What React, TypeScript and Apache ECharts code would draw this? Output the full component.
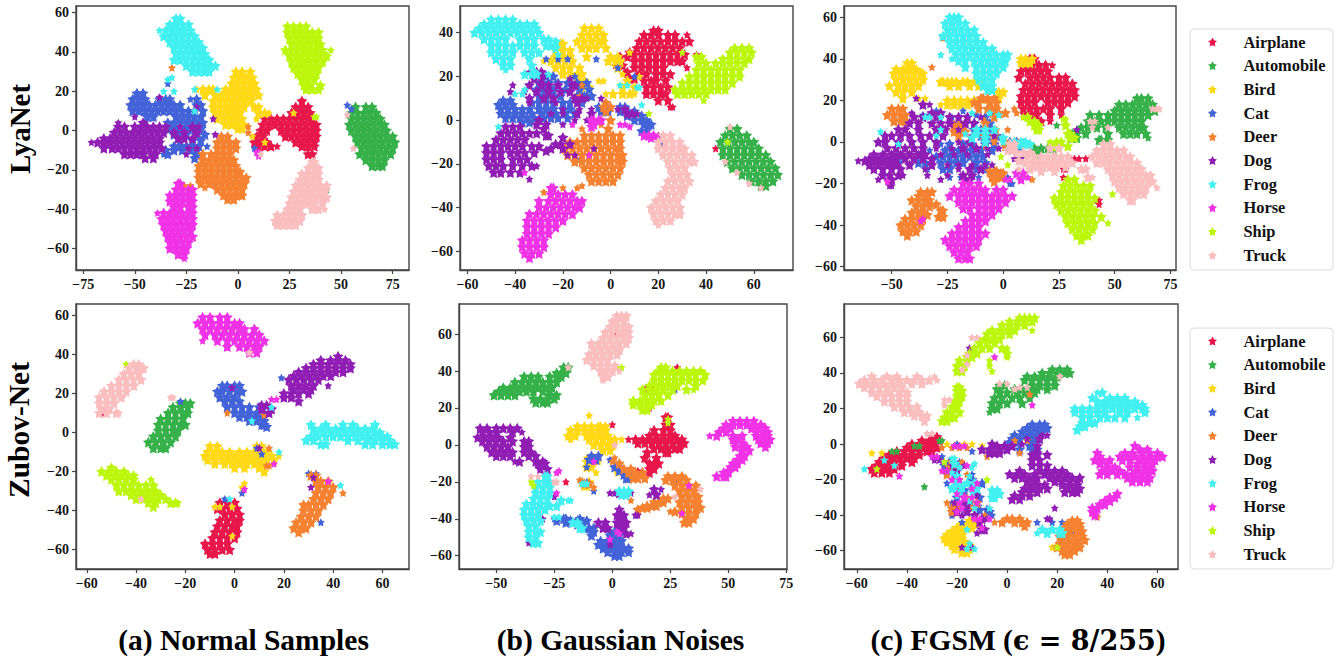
import React, { useEffect, useRef } from "react";
import * as echarts from "echarts";

const classes = ["Airplane", "Automobile", "Bird", "Cat", "Deer", "Dog", "Frog", "Horse", "Ship", "Truck"];
const colors = ["#e8174b", "#36b14a", "#ffd916", "#4363d8", "#f58231", "#911eb4", "#42f0f0", "#f032e6", "#bcf60c", "#fabebe"];
const star = "path://M50 0 L66 30 L100 38 L76 62 L81 100 L50 85 L19 100 L24 62 L0 38 L34 30 Z";

// every row is [y, x, x, x ...]
const a1 = [[15,31],[12,28,31,34],[9,26,29,32,35],[6,13,16,19,22,25,28,31,34,36],[3,12,15,18,21,24,27,30,33,36,38],[0,11,14,21,24,27,30,33,36,38],[-3,9,12,23,26,29,32,35,38],[-6,8,11,14,28,31,34,37],[-8,10,13,16,19,31,34,37],[-12,34,36]];
const a2 = [[12,57,62,65],[9,55,58,61,64,67],[6,55,58,61,64,67,69],[3,54,57,60,63,66,69,71],[0,55,58,61,64,67,70,72],[-3,57,60,63,66,69,72,75],[-6,58,61,64,67,70,73,76],[-9,60,63,66,69,72,75],[-12,59,62,65,68,71,74],[-15,62,65,68,71],[-18,65,68,70],[-30,43]];
const a3 = [[30,-1,2,6],[27,-2,1,4,7],[24,-3,0,3,6,8],[21,-20,-17,-14,-12,-6,-3,0,3,6,9],[18,-16,-11,-8,-5,-2,1,4,7,10],[15,-12,-9,-6,-3,0,3,6],[12,-12,-9,-6,-3,0,3,8,10],[9,-11,-8,-5,-2,1,10,13,15],[6,-10,-7,-4,-1,2,9],[3,-6,-3,0,3],[1,0,2],[-3,7],[-16,-8],[9,27],[-6,13]];
const a4 = [[19,-49,-46],[16,-51,-48,-45,-38,-35,-33,-23,-20],[13,-52,-49,-46,-43,-40,-37,-34,-31,-28,-20,-18],[10,-51,-48,-45,-42,-39,-36,-33,-30,-27,-24,-21,-17],[7,-44,-41,-30,-27,-24,-21,-18],[4,-34,-31,-28,-25,-22,-19,-17],[1,-33,-30,-27,-24,-21,-18],[-2,-31,-28,-25,-20,-16],[-5,-28,-22,-18],[-8,-31,-28,-25,-22,-19,-15],[-10,-35,-31,-27,-23,-20],[-12,-36,-34,-20],[13,53],[11,55],[24,-34],[-9,8],[-14,-21]];
const a5 = [[-3,-8,-5],[-6,-10,-7,-4,-1],[-9,-10,-7,-4,-1],[-12,-17,-13,-10,-7,-4],[-15,-17,-14,-11,-8,-5,-2],[-18,-19,-16,-13,-10,-7,-4,-1],[-21,-19,-16,-13,-10,-7,-4,-1,1],[-24,-19,-16,-13,-10,-7,-4,-1,2,4],[-27,-18,-14,-11,-8,-5,-2,1,3],[-30,-10,-7,-4,-1,2],[-33,-7,-4,-1,2],[-35,-5,-2],[-28,-26,-23],[-29,-16],[-1,5],[2,5],[32,-32]];
const a6 = [[7,-50],[4,-58,-46],[2,-58,-55,-50,-47,-44,-41,-38,-35,-28,-22,-19],[-1,-60,-57,-54,-51,-48,-45,-42,-39,-36,-31,-26,-20],[-4,-65,-62,-59,-56,-53,-50,-47,-44,-41,-38,-29,-26,-22],[-6,-71,-68,-65,-62,-59,-56,-53,-50,-47,-44,-41,-38],[-9,-65,-61,-58,-55,-52,-49,-46,-43,-40,-37,-24,-20],[-12,-55,-52,-49,-46,-42,-40,-25],[-14,-45,-41],[6,-12],[-2,-11],[12,-20],[17,-38]];
const a7 = [[57,-30,-28],[54,-33,-30,-27,-24],[51,-38,-35,-32,-29,-26,-23],[48,-36,-33,-30,-27,-24,-21],[45,-33,-30,-27,-24,-21,-19],[42,-31,-28,-25,-22,-19,-17],[39,-30,-27,-24,-21,-18,-16],[36,-28,-25,-22,-19,-16,-14],[33,-25,-22,-19,-16,-13,-11],[30,-22,-19,-16,-14],[36,-31],[27,-32],[26,-34],[20,-36,-31],[21,-21,-10],[10,-21]];
const a8 = [[-27,-29,-28],[-30,-30,-27,-24,-22],[-33,-33,-30,-27,-24,-22],[-36,-33,-30,-27,-24,-22],[-39,-31,-28,-24,-22],[-42,-39,-36,-33,-30,-27,-24,-22],[-45,-37,-34,-31,-28,-25,-22],[-48,-36,-33,-30,-27,-24,-22],[-51,-35,-32,-29,-26,-23],[-54,-34,-31,-28,-25,-22],[-57,-33,-30,-27,-24],[-60,-33,-30,-27,-25],[-63,-29,-26],[-65,-26],[-11,10,9],[-13,10]];
const a9 = [[53,24,27,30,33],[50,24,27,30,33,36,39],[47,25,28,31,34,37,39],[44,26,29,32,35,38,40],[41,23,26,29,32,35,38,41,45],[38,25,28,31,34,37,40,43],[35,26,29,32,35,38,41],[32,27,30,33,36,39],[29,29,32,35,38],[26,31,34,37],[23,32,35,40],[21,33,36,39],[7,38,37]];
const a10 = [[-16,36,37],[-19,34,37,39],[-22,31,34,37,39],[-25,30,33,36,39],[-28,28,31,34,37,40,43],[-31,27,30,33,36,39,42],[-34,26,29,32,35,38,41,43],[-37,25,28,31,34,37,41],[-40,24,27,30,36,39,42],[-43,19,22,25,28,31],[-46,18,21,24,27,30],[-48,19,22,25,28],[8,53],[-9,56],[-12,11]];

const b1 = [[41,18,20],[39,14,17,20,24,27,32],[36,12,15,18,21,24,27,30,33],[33,11,14,17,20,23,26,29],[30,10,13,16,19,22,25,28,31],[27,10,13,16,19,22,25,28,30],[24,10,13,16,19,22,32],[21,12,15,19,22,25],[18,14,17,19,23],[15,15,18,21,24],[12,15,18,21,23],[9,20,24],[6,25,26],[31,8],[29,4,7],[25,2,5],[22,7],[19,8,10],[-13,44],[-7,20],[20,54],[30,36]];
const b2 = [[-4,50,53],[-7,48,51,54,57],[-10,46,49,52,55,58,60],[-13,47,50,53,56,59,62],[-16,47,50,53,56,59,62,65],[-19,49,52,55,58,61,64,67],[-22,51,54,57,60,63,66,69],[-25,55,58,61,64,67,70],[-28,59,62,65,68],[-30,63,65]];
const b3 = [[42,-11,-8,-5],[39,-12,-9,-6,-3],[36,-14,-11,-8,-5,-3],[33,-12,-9,-6,-2],[35,-21,-20],[32,-23,-20,-17],[29,-23,-20,-17,-10,0,3],[27,-28,-25,-22,-19,-16,-1,2,4],[24,-23,-20,-17,-13,3],[21,-20,-17,-14,-12,5],[18,-13,-11,-5,-3,7],[15,-12,-9,5,10],[12,-2,1,5,8,10],[20,12],[31,8]];
const b4 = [[9,-45,-42],[7,-47,-44,-41],[5,-46,-43,-40,-37,-34,-30,-27,-24,-20,-17],[3,-46,-43,-40,-37,-33,-29,-26,-23,-19,-15],[1,-44,-41,-38,-35,-32,-28,-25,-22,-18],[-1,-37,-34],[8,-33,-30,-27,-24,-20,-17,-12],[11,-30,-27,-24,-21,-14,-11,-8],[14,-31,-28,-24,-19,-13,-9],[17,-30,-26,-22,-18,-14,-10],[20,-27,-24,-15],[6,4,6,-5,-2],[4,4,7,10,-4,-1],[2,7,10,13],[0,10,13,15],[-2,14,16,17],[-5,13,15],[28,-6,-18,-22,-27],[24,3],[20,10],[-11,22],[-18,-13]];
const b5 = [[-4,-12,-1],[-7,-11,-8,-5,-2,1,4],[-10,-17,-14,-11,-8,-5,-2,1,4],[-13,-19,-16,-13,-10,-7,-4,-1,2,4],[-16,-18,-15,-12,-9,-6,-3,0,3,5],[-19,-15,-12,-9,-6,-3,0,3,5],[-22,-11,-8,-5,-2,1,4],[-25,-9,-6,-3,0,3],[-28,-8,-5,-2,1],[8,-2],[6,-3,0],[4,-2],[0,0],[-2,-4],[-31,-20,-14],[-30,-12],[-33,-28],[16,-12],[11,-13]];
const b6 = [[-3,-44,-41,-38],[-6,-46,-43,-40,-37,-34,-31],[-9,-48,-45,-42,-39,-36],[-12,-52,-49,-46,-43,-40,-37,-33,-30],[-15,-52,-49,-46,-42,-39,-36,-32],[-18,-52,-49,-46,-41,-38,-35],[-21,-51,-48,-45,-41,-37,-33,-31],[-24,-49,-46,-42,-38],[-27,-34],[22,-34,-31,-29],[19,-32,-29,-17],[16,-41,-34,-29,-26,-22,-16,-15],[13,-42,-36,-31,-26,-21,-17],[10,-34,-28,-24,-15,-12,-10,-4],[8,-34,-23,-14],[5,-20,-13,-8,3,6],[3,-25,-20,-14,-8,7,9,11],[0,-30,-15,-10,-5],[-2,-31,-27,-20],[-4,-28],[-7,-27,-26],[-8,-20],[-11,-21,-17,-23],[-13,-25,-20,-7],[-14,-27],[-16,-18,-15]];
const b7 = [[46,-50,-47,-44,-41],[44,-53,-50,-47,-44,-41,-38,-35,-32],[42,-55,-52,-49,-46,-43,-40,-37,-34,-31],[40,-57,-54,-51,-48,-45,-42,-39,-36,-33,-30],[37,-53,-50,-47,-44,-38,-35,-32,-28,-26],[34,-50,-47,-44,-41,-38,-35,-32,-27,-25],[31,-50,-47,-44,-41,-36,-33,-30],[28,-48,-45,-42,-34],[25,-45,-42],[23,-44],[25,-33],[22,-32],[21,-36,-33,-31,-26],[12,-37,-40],[33,-23],[30,-22],[36,-23],[14,-36],[-3,-47],[7,13],[16,4,7],[15,11,12]];
const b8 = [[-31,-25,-24],[-34,-25,-22,-19,-16],[-37,-30,-26,-23,-20,-17,-14,-12],[-40,-30,-27,-24,-21,-18,-15,-13],[-43,-34,-31,-28,-25,-22,-19,-16],[-46,-35,-32,-29,-26,-23,-20],[-49,-35,-32,-29,-26,-23],[-52,-35,-32,-29,-26],[-55,-37,-34,-31,-28],[-58,-37,-34,-31,-28],[-61,-36,-33,-30],[-63,-34],[-2,-16,4,6,-7],[0,-8,-7,-5,-4],[-3,-8,8],[-7,14,16,18],[-8,20,17],[-16,-9],[-24,-36]];
const b9 = [[33,52,55,58],[31,50,53,56,59,30],[28,47,50,53,56,58],[26,37,40,44,47,50,53,56],[29,38,36],[23,36,39,42,45,48,51,54],[20,33,36,39,42,45,48,51,54],[17,30,33,36,39,42,45,48,51],[14,27,30,33,36,39,42,45,48],[12,28,31,34,37,40],[9,39],[-10,49],[3,16]];
const b10 = [[-7,22,25],[-10,20,23,26,29],[-13,20,23,26,29,31],[-16,22,25,28,31,34],[-19,24,27,30,33,35],[-22,25,28,31],[-25,26,29,32],[-28,24,27,30,33],[-31,23,26,29,31],[-34,21,24,27,30],[-37,19,22,25,28],[-40,17,20,23,26,29],[-43,18,21,24,27,29],[-46,19,22,25],[-48,20],[-3,50],[-19,48],[-24,53],[-29,58],[-31,63]];

const c1 = [[40,12,14],[37,10,13,16,19,22],[34,8,11,14,17,20],[31,7,12,15,18,21,25,28],[28,10,13,16,19,22,25,28,31],[25,9,12,15,18,21,24,27,30,32],[22,8,11,14,17,20,23,26,29,32],[19,8,11,14,20,23,26,29],[16,9,12,15,18,21,26],[13,10,13,15,21,26],[10,17,21],[-8,32,34,37],[-13,28,27],[-17,27],[-28,43,42],[-30,43]];
const c2 = [[21,60,62,65],[18,52,55,58,61,64,67],[15,50,53,56,59,62,65,68],[13,39,43,47,50,53,56,59,62,65],[10,38,41,44,47,50,53,56,59,62],[7,35,38,42,46,52,55,58,61,63],[4,37,47,54,57,60,64],[2,65],[1,44,43,47],[4,32,33,31],[2,31,33],[8,24],[-3,14,17,20],[-5,16,23],[-6,10,15]];
const c3 = [[38,-43,-41],[35,-48,-45,-42,-39],[33,-49,-46,-43,-40,-37,-36],[30,-48,-45,-42,-39,-36],[27,-51,-47,-44,-41,-38],[24,-48,-45,-41],[21,-45,-38,-35],[29,-28,-27,-25,-23,-21,-18,-16,-13,-10],[27,-24,-20,-15,-11],[20,-25,-22,-19,-16,-13,-11,-8],[18,-28,-25,-22,-19,-16],[38,8,10,12],[40,8,10,13],[21,-3,-2],[24,-2,0]];
const c4 = [[-7,-48,-46,-36,-30,-27,-24,-21,-18,-15,-12,-9],[-10,-50,-47,-38,-35,-28,-24,-21,-18,-12,-8],[-4,-33,-26,-23,-20,-17,-14,-10,-5],[-13,-34,-27,-24,-12,-8],[-1,-28,-24,-18,-14,-8,-4],[3,-10,-7,-3],[6,-13,-10,-6],[9,-20,-17,-13,-6],[13,-36,-33,-28,-12],[15,-30,-18],[12,-23,-8],[-17,-24,-19,-11,2],[0,3,6,9],[-3,2,7],[-20,3,4],[14,-5]];
const c5 = [[-24,-37,-34,-32],[-26,-38,-35],[-28,-41,-38,-35,-33],[-31,-39,-36,-33],[-34,-41,-38,-36],[-37,-44,-41,-38,-36],[-40,-46,-43,-40,-37],[-43,-45,-42,-39],[-45,-43],[16,-50,-47,-45],[13,-52,-49,-46,-44],[10,-49,-46,-44],[-30,-30],[-33,-28,-27],[-36,-29,-27],[-35,-34],[8,-22,-20,-18],[5,-22,-19,-17],[3,-20,-9,-4],[11,-9],[6,-8,-3,2],[0,-4,1,5,7],[-2,-8,1,4],[-14,-6,-4,-3],[-17,-5,-3,-1],[-19,-4],[-15,-1,0],[21,-10,-7,-4,-9],[19,-13,-11,-6,-3],[16,-11,-7,-5,-3,5],[14,-2,1,6],[12,-4],[9,-8],[-18,13],[36,-32],[50,-27]];
const c6 = [[-6,-58,-54,-50,-46,-42,-38,-35,-28,-22,-16,-7],[-8,-60,-56,-52,-48,-44,-40,-36,-32],[-9,-65,-62,-58,-54,-50],[-11,-60,-56,-52,-48,-42,-32,-25,-20,-14,-8,-5],[-13,-58,-54,-50,-46,-35,-20,-15,-10],[-16,-54,-51,-47,-45,-34,-25,-18,-14],[-18,-56,-50,-28,-17,-15],[-21,-51,-50],[-3,-52,-48,-44,-40,-36,-30,-23,-18,-12,-7,-2],[0,-56,-53,-47,-41,-36,-30,-20,-15,-8],[3,-53,-50,-46,-42,-37,-33,-27,-14,-4],[6,-47,-44,-38,-30,-26,-20],[9,-42,-38,-32,-28,-24,-17,-13],[12,-40,-36,-30,-24,-20,-16,-10],[14,-41,-32,-28],[18,-36,-33],[21,-39],[-8,5,8],[-3,5],[6,33]];
const c7 = [[60,-24,-22,-20],[57,-26,-23,-20,-17],[54,-25,-22,-19,-16,-13],[51,-27,-24,-21,-18,-15,-12],[48,-24,-21,-18,-15,-12,-9],[45,-23,-20,-17,-14,-11,-8,-5],[42,-21,-18,-15,-12,-9,-6,-3,0,2],[39,-20,-17,-13,-10,-7,-4,-1,1],[36,-17,-12,-9,-6,-3,0],[33,-12,-9,-6,-3],[30,-11,-8,-5],[27,-9,-6,-5],[25,-7,-5],[42,-28],[40,-23],[6,-28,-12,-8,-4],[4,-17,-12,-8],[2,-14,-8,0],[0,-8,0,5,8,10],[-1,3,6,9,12],[12,-35,-33,-28],[3,-30],[-1,-47],[5,-55],[14,-14,-6],[13,-2]];
const c8 = [[-20,-18,-15,-11],[-23,-22,-19,-16,-13,-10,-8,-3,0],[-26,-24,-20,-17,-14,-11,-8,-5,-2,1,4],[-29,-20,-17,-14,-11,-8,-5,-2,1],[-32,-18,-15,-11,-8,-5,-2],[-35,-14,-11,-8,-5],[-38,-17,-14,-11,-8],[-41,-20,-17,-14,-11],[-44,-23,-20,-17,-14,-11,-8],[-47,-26,-23,-20,-17,-14,-11],[-50,-24,-21,-18,-15,-12],[-53,-22,-19,-16],[-56,-20,-17,-15],[-18,1,3,8],[-15,6,9],[-17,11],[-37,-36],[-38,-37],[-19,-52]];
const c9 = [[-18,29,32],[-21,27,30,33,36,39],[-24,26,29,32,35,38],[-27,23,26,29,32,35,38,41],[-30,24,27,30,33,36,39],[-33,26,29,32,35,38,41],[-36,28,31,34,37,40,44],[-39,29,32,35,38,41,47],[-42,31,34,37,40],[-45,33,36,38],[-47,35],[12,9,11],[10,12,14],[8,14,16],[6,15,16],[11,27,28],[8,28],[4,29,30],[2,30,32],[0,21,24,26],[-2,22,29],[-7,-1],[-11,2],[-25,49]];
const c10 = [[-1,45,48],[-4,42,45,48,51,54],[-7,40,43,46,49,52,55,57],[-10,42,45,48,51,54,57,60],[-13,47,50,53,56,59,62],[-16,49,52,55,58,61,64,66],[-19,50,53,56,59,62,65,67],[-22,52,55,58,61,64,69],[-25,54,57,60,63],[-28,57,58],[-7,11,14,17,20,23,26,29],[-10,10,13,16,19,22,25,28,31],[-12,15,18,21,24,28],[-14,17,23],[-3,21,25],[-13,35,37,7,12],[-17,38,40],[16,70,69,67],[10,39,41],[7,40,47],[-4,2,4],[-1,3,5],[-5,6,9,12],[-9,7]];

const d1 = [[-36,-6,-3,0],[-39,-7,-5,-2,1],[-42,-4,-1,2],[-45,-6,-3,0,2],[-48,-7,-4,-1,1],[-51,-8,-5,-2,1],[-54,-9,-6,-3,0],[-57,-12,-9,-6,-3],[-60,-11,-8,-5,-2],[-62,-10,-8],[10,-53]];
const d2 = [[15,-22,-20,-18],[13,-25,-22,-19],[10,-27,-24,-21,-19],[7,-30,-27,-24,-21],[4,-31,-28,-25,-22,-20],[1,-31,-28,-25,-23],[-2,-33,-30,-27,-24],[-5,-35,-32,-29,-26],[-8,-33,-30,-28]];
const d3 = [[-7,-10,-7,9,11],[-10,-11,-8,-5,-2,2,5,8,11,13],[-12,-12,-9,-6,-3,0,3,6,9,12,15,18],[-14,-11,-8,-5,-2,1,4,7,10,13,16],[-16,-8,-4,-1,2,5,8,11],[-18,0,4,10],[-20,12],[-38,-8,-6,-1],[-53,-1],[-26,4],[-28,3]];
const d4 = [[24,-5,-3,0,2],[21,-7,-5,-2,1,3],[18,-6,-3,0],[16,-4,-1,2,-22],[13,-3,0,3,6,10],[10,0,3,6,9,12],[8,2,5,8,11],[6,6,9,12],[4,11,12],[3,13],[-8,9],[-11,11],[-21,30,33],[-34,-4],[-31,3],[-46,35],[28,19]];
const d5 = [[-22,31,33],[-25,33,35,38],[-28,34,37,40],[-31,33,36,39,44],[-34,32,35,38],[-37,28,30,33,36],[-40,28,31,34],[-43,27,30,33],[-46,25,28,31],[-49,24,27,29],[-51,26],[10,-3],[9,12],[-8,14],[-17,14,13]];
const d6 = [[39,42],[37,35,39,42,45],[35,32,35,38,41,44,47],[33,29,32,35,38,41,44,47],[31,26,29,32,35,38,41,44],[29,24,27,30,33,36,39],[27,22,25,28,31,34],[24,23,26,29,32,38],[22,24,28,31],[20,20,23,26,30],[18,20,23],[16,26],[14,11,13],[12,11,15],[10,14],[23,-1],[-8,10],[-23,32],[-28,31]];
const d7 = [[4,31,37,44,48,57],[2,32,35,38,41,44,47,50,53,56],[0,33,36,39,42,45,48,51,54,57,59],[-2,31,34,37,40,43,46,49,52,55,58,60,62],[-4,29,32,46,50,54,57,60,63],[-6,35,37,53,56,60,63,65],[13,15],[6,7],[-10,18],[-27,43],[-34,-2]];
const d8 = [[59,-13,-10,-6,-3],[56,-15,-12,-9,-6,-3,0,2],[53,-13,-10,-7,-4,-1,2,4,8],[50,-12,-8,-5,-2,1,4,7,10],[47,-13,-7,-3,0,3,6,9,12],[44,-3,2,5,8,10],[41,6,9],[17,15,17],[-16,16],[-25,38],[-29,4]];
const d9 = [[-18,-50],[-20,-54,-51,-48,-45],[-22,-52,-49,-46,-43,-41],[-24,-50,-47,-44,-41,-34],[-27,-48,-45,-42,-39,-36,-33],[-30,-47,-44,-41,-38,-35,-32],[-32,-42,-39,-36,-33,-30],[-34,-40,-37,-34,-31,-28],[-36,-35,-32,-26,-24,-23],[-38,-33],[35,-44]];
const d10 = [[35,-41,-39],[33,-43,-40,-38,-37],[30,-45,-42,-39],[27,-47,-44,-41,-38],[24,-50,-47,-44,-41],[21,-53,-50,-47,-44],[18,-55,-52,-49,-46],[15,-55,-52,-49],[12,-54,-51],[10,-55,-52,-48,-47],[18,-26,-25],[41,6],[-34,-38]];

const e1 = [[15,23,24],[11,23,25],[8,18,22,25],[5,16,19,22,25,27],[3,7,10,13,16,19,22,25,28,30],[1,11,14,17,20,23,26,29,31],[-2,18,21,24,27,29],[-4,15,23,24],[-7,14,19],[-10,16,18,20],[-13,16,18],[-15,16],[11,0],[-20,-20],[-15,13],[-14,11],[31,15,17],[29,14],[20,16],[51,3],[60,2],[42,28]];
const e2 = [[42,-21,-19],[39,-24,-22,-20],[37,-38,-35,-32,-27,-24,-22],[34,-42,-39,-36,-33,-30,-27,-24],[31,-47,-44,-41,-38,-35,-32,-29,-26],[29,-49,-46,-43,-40,-37,-34,-30,-27],[27,-51,-48,-45,-42,-27,-24],[25,-34,-31,-28,-25],[23,-33,-30,-28]];
const e3 = [[10,-15,-12,-9,-6,-3,-5],[8,-18,-15,-12,-9,-6,-3],[5,-19,-16,-11,-8,-5,-2],[3,-18,-10,-7,-4,-1],[0,-8,-5,-2,0],[-3,-4,-1],[-7,-11,-8],[-9,-11,-6],[-12,-11,-9],[-20,-13,-10],[-22,-11,-12],[3,1,4],[-15,-7,2],[16,-10]];
const e4 = [[-47,-1,1],[-49,-1,1,3],[-52,-5,-2,1,4],[-54,-6,-3,0,3],[-56,-4,-1,2,5,7],[-58,-2,1,4,7],[-60,1,3],[-40,-25,-21,-14,-20],[-41,-24,-18,-15,-11],[-42,-20,-17,-14],[-43,-15,-13],[-45,-12,-10,-8],[-47,-9,-8],[-49,-9],[-6,-9,-6],[-8,-10,-7,-1],[-12,-11,1,3],[-14,3,5],[-16,5,7],[-18,6,7],[-20,-13,-11],[-25,-8],[-26,2,4,6],[-40,3,5],[-38,10],[30,27],[-20,27]];
const e5 = [[-17,24,27,30],[-19,23,26,29,32],[-22,27,30,33,36],[-25,29,32,35],[-28,30,33,36,37],[-31,29,32,35,37],[-34,30,33,36,38],[-37,30,33,36],[-40,32,35],[-42,31,33],[-29,22,24],[-31,18,20,22],[-33,15,17,19],[-34,13,15],[-35,11],[-36,25,27],[-9,0],[-7,1],[-10,3],[-13,5,8],[-15,7,10,13],[-18,9,11,14],[-17,10],[-19,-14],[-21,-12,-10],[-23,-8],[-30,8]];
const e6 = [[9,-57,-54,-50,-47,-44,-41],[7,-56,-53,-50,-43,-39],[4,-58,-55,-52,-49,-44],[2,-56,-53,-50,-47,-43,-38,-36],[-1,-54,-51,-48,-45,-38,-36],[-4,-52,-49,-46,-43,-38,-35],[-6,-50,-47,-44,-36,-33],[-9,-42,-40,-33,-30],[-10,-32,-29],[-13,-31,-28],[-26,-1,1,3,6,8],[-24,18,21],[-27,16,19],[-42,-6,-3,2,4,6],[-45,-4,-2,3,5],[-48,8,6],[-38,2,4,5,10,11],[-35,3],[-54,-1],[-28,-25],[-40,-30],[-53,-36]];
const e7 = [[-17,-29,-28],[-20,-32,-29,-27],[-23,-33,-30,-27],[-26,-33,-30,-27],[-29,-34,-31,-28],[-32,-37,-34,-31,-28],[-35,-38,-35,-32,-29],[-38,-38,-35,-32],[-41,-37,-34,-31],[-44,-36,-33],[-47,-36,-33,-31],[-50,-36,-33],[-53,-34,-32],[-30,-22,-19,-18],[-33,-27,-24],[-39,-25,-23],[-42,-17,-15],[-45,-14,-13],[-21,-13,-12,-11],[-25,3,5,7],[-27,4,6]];
const e8 = [[13,52,55,58,61],[11,49,52,55,58,61,64],[9,48,51,60,63,66],[7,46,49,62,65,67],[5,42,45,52,56,62,65,67],[3,52,54,63,66,68],[1,53,56,64,67],[-1,53,56,58,66],[-3,56,59],[-6,55,57],[-8,54,56],[-10,52,54],[-12,51,53],[-14,50],[-15,48,50],[-17,45,48,49],[-15,-24],[-14,-23],[-26,-24],[-37,30],[-22,33],[-48,3],[-51,-1],[-47,2],[-9,-8]];
const e9 = [[42,21,23],[40,20,23,26,29,32,35,38],[38,18,21,24,27,30,33,36,40],[35,18,21,24,27,30,33,36,39],[32,16,19,22,25,28,36],[30,13,16,19,22,26,32,35],[27,14,17,20,24],[24,9,12,15,18,21],[22,9,12,15,17],[19,13,15],[14,24],[12,24],[-20,-35],[-22,-34],[42,2,4]];
const e10 = [[70,2,4,6],[67,0,2,5],[64,-1,2,5,7],[61,-3,0,3,5,7],[58,-4,-1,2,5,7],[55,-9,-6,-3,0,3,6],[52,-8,-5,-2,1,3],[49,-10,-7,-4,-1,2],[46,-11,-8,-5,-2],[43,-8,-5,-2,1],[40,-5,-3,0,3],[37,-4,-2],[35,-4],[42,-19],[-20,-25,-24],[-17,-35,-32],[-24,38],[-28,27],[0,1]];

const f1 = [[4,-30,-28],[2,-34,-31,-29,-27],[0,-38,-35,-32,-29],[-2,-40,-37,-34,-31,-28],[-4,-44,-41,-38,-35,-32,-30],[-6,-47,-44,-41,-38,-35],[-8,-49,-46,-43,-40,-37],[-10,-51,-48,-45,-42,-38],[-12,-52,-49,-46,-42],[-14,-54,-51,-48,-45],[-16,-53,-50,-47]];
const f2 = [[42,18,21,24],[40,14,17,20,23,25],[38,8,11,14,17,20],[36,7,10,13,16,19],[33,-1,-3,10,13,16,19],[31,-4,3,6,9,12,16],[29,-3,0,4,7,11],[26,-5,-2,2,5,9],[23,-6,-3,0,6],[20,-6,-4],[18,-7],[2,-27,-26],[-4,-44,-46],[-24,-33],[-1,-37,-35]];
const f3 = [[-43,-15,-13,-12],[-45,-18,-16,-14,-12],[-47,-20,-18,-16,-14],[-49,-22,-20,-18],[-51,-24,-22,-20,-18],[-53,-25,-23,-20,-18],[-55,-24,-22,-20,-17],[-57,-22,-20,-17,-15],[-59,-21,-18,-15],[-61,-18,-16],[-58,18,19],[-5,-54,-50],[0,-24,-20,-17,-14],[-1,-10],[-34,-21]];
const f4 = [[11,10,13,15],[9,8,11,14,16],[7,6,9,12,14],[5,3,7,10,13],[3,2,5,9,12],[1,1,4,10],[-1,-1,2,9],[-3,5,10,12],[-7,-28,-26],[-14,-24,-22],[-20,-20,-14],[-26,-13,-17],[-30,-20,-11],[-37,-17,-11,-8],[-40,-22,-6],[-38,-7],[-12,-25],[-4,-14,-7],[-44,12,18,22],[-50,27],[0,-20],[-10,-23,-19],[-17,-21,-14],[-22,-24,-14,-10],[-28,-19,-12],[-33,-22,-15],[-35,-12],[-44,-18]];
const f5 = [[-43,26,28],[-45,24,27,29],[-47,23,26,29],[-49,22,25,28,30],[-52,21,24,27,30],[-54,22,25,28,31],[-56,21,24,27,29],[-58,20,23,26,29],[-60,22,25,27],[-62,23,25],[-44,-5,-2,3,6,8],[-42,0,2,5],[-46,7],[-2,-26,-22,-19,-16],[-38,-22,-20],[-35,-20,-15],[-13,-23,-21],[-20,-20,-19],[2,3,8],[-5,5],[-39,35,34],[-41,36],[28,9],[-7,-8],[-10,-22,-18],[-17,-24,-16],[-26,-20],[-30,-16],[-33,-24,-12],[-36,-22,-14],[-40,-9]];
const f6 = [[-6,10,12,16],[-9,10,13],[-12,10,13,16],[-15,5,13,16,19,22],[-17,1,4,7,11,15,18,21,24],[-19,3,6,9,12,17,20,23,26,29],[-21,8,11,19,22,25,28],[-23,9,12,15,22,25,28],[-25,7,10,13,16,24,27,29],[-27,6,9,12,23,26,28],[-29,3,6,9],[-31,2,5],[5,14,16],[3,8,13],[0,-6,6],[-1,-4,-1,2,12],[-3,-10,-7,-3,0],[-5,-7,-5,-3,12],[-9,-29,-27],[-15,-24,-20],[-33,-21,-18],[-38,-20,-16],[-42,-10,-8],[-48,-10,-9],[-58,-18,-14],[-42,16,17],[-36,19],[54,-15],[-1,-21],[-12,-22,-17],[-25,-19],[-29,-12],[-34,-16],[-40,-18,-13],[-44,-11],[-50,-12]];
const f7 = [[29,36,38],[26,34,41,44,47],[24,36,39,42,45,48,51],[22,38,40,43,46,49,52,54],[20,27,30,33,36,39,42,45,48,51,54,55],[18,27,30,33,36,39,45,48,55],[15,30,33,37,40,43,47,52],[12,30,33,35],[10,29,31],[8,28],[-26,-6,-4],[-28,-5,-3],[-30,-6,-5],[-8,-22,-21],[-11,-21,-13],[-16,-22],[-22,-20,-16,-13],[-25,-22,-12],[-29,-20],[-48,14,18,21],[-50,12,16],[-59,-16,-13],[-56,-15],[-14,-57],[-9,-49],[-12,-45],[-13,-19,-14],[-18,-20,-15],[-24,-21,-18],[-27,-19,-14],[-32,-15],[-36,-13,-7],[-48,-16],[-50,22,21]];
const f8 = [[-1,51],[-3,53,56],[-5,36,47,50,54,57,60],[-7,37,45,48,51,54,57,60,62],[-9,35,38,41,46,49,53,56,59],[-11,37,40,52,55,58],[-13,40,43,49,52,55,57],[-15,38,42,45,52,55,58],[-17,37,40,44,47,50,53,56],[-19,48,51,54,57],[-21,50,53,56],[-28,44],[-30,41,43],[-32,39,41],[-34,37,39],[-36,34,36],[-38,35,34],[-40,35],[-18,-43],[-1,-21,-19,-17],[-7,-30,-28],[-15,-26,-24],[-20,-22,-19],[-25,-14],[-30,-17,-14],[-33,-19,-12],[-36,-18],[-38,-20],[-42,-13,-11,-7],[-47,-10],[49,-5],[22,10],[-12,-16],[-22,-12],[-28,-20]];
const f9 = [[71,5,7,9,11],[69,1,4,7,10],[67,-2,1,4,7],[64,-6,-3,0,3,10],[62,-8,-5,-2,1],[59,-9,-6,-3],[57,-11,-8,-5],[54,-13,-10,-7,-2,0],[51,-15,-12,0],[49,-16,-14,0],[47,-19,-16,-7],[44,-20,-17,-7],[41,-20,-18,-6],[32,-20,-19],[30,-20,-18],[27,-20,-18],[24,-21,-19],[21,-22,-20],[18,-24,-22,-19],[15,-25,-23,-21],[13,-26,-24],[-20,-8],[-58,20],[-10,-25],[-14,-52]];
const f10 = [[38,-54,-48,-44,-36,-29],[36,-57,-53,-50,-46,-43,-40,-37,-34,-31,-28],[34,-59,-56,-53,-49,-46,-43,-38,-34],[32,-57,-54,-51,-48,-45,-42],[29,-54,-51,-47,-43,-40],[27,-52,-49,-46,-43,-40],[24,-49,-46,-43,-40],[21,-45,-42,-39,-36],[18,-41,-38,-35],[16,-37,-34,-32],[13,-33],[6,-32,-30],[25,-25,-23],[22,-25],[60,-14,-12],[50,-16],[45,-16],[42,-18],[34,-3,0],[31,3],[38,21],[32,5,8]];

const xTicksA = [-75, -50, -25, 0, 25, 50, 75];
const xTicksB = [-60, -40, -20, 0, 20, 40, 60];
const xTicksC = [-50, -25, 0, 25, 50, 75];
const yTicksA = [-60, -40, -20, 0, 20, 40, 60];
const yTicksB = [-60, -40, -20, 0, 20, 40];

const rowsToPoints = (rows: number[][]) => rows.flatMap(([y, ...xs]) => xs.map((x) => [x, y]));

const panels = [
  { box: [76, 6, 333, 264], x: [-78.5, 82.9], y: [-71, 63.4], xt: xTicksA, yt: yTicksA, sets: [a1, a2, a3, a4, a5, a6, a7, a8, a9, a10] },
  { box: [460, 6, 333, 264], x: [-63.1, 76.4], y: [-68.6, 52.2], xt: xTicksB, yt: yTicksB, sets: [b1, b2, b3, b4, b5, b6, b7, b8, b9, b10] },
  { box: [844, 6, 332, 264], x: [-71.4, 77.5], y: [-61.6, 65.4], xt: xTicksC, yt: yTicksA, sets: [c1, c2, c3, c4, c5, c6, c7, c8, c9, c10] },
  { box: [76, 304, 333, 265], x: [-64.4, 70.8], y: [-69.9, 65.8], xt: xTicksB, yt: yTicksA, sets: [d1, d2, d3, d4, d5, d6, d7, d8, d9, d10] },
  { box: [459, 304, 328, 265], x: [-66.1, 75.3], y: [-67.2, 76.3], xt: xTicksC, yt: yTicksA, sets: [e1, e2, e3, e4, e5, e6, e7, e8, e9, e10] },
  { box: [844, 304, 334, 265], x: [-65.1, 68.2], y: [-70.3, 78.8], xt: xTicksB, yt: yTicksA, sets: [f1, f2, f3, f4, f5, f6, f7, f8, f9, f10] },
];

const serif = "'Liberation Serif', 'Times New Roman', serif";
const tickFmt = (v: number) => String(v).replace("-", "\u2212");

// marks inside a dense cluster merge into a blob; isolated ones stay small stars
const markSize = (pts: number[][]) => (v: number[]) =>
  pts.filter((p) => Math.abs(p[0] - v[0]) <= 4.5 && Math.abs(p[1] - v[1]) <= 4).length >= 4 ? 11 : 8;

const axis = (i: number, min: number, max: number, ticks: number[]) => ({
  type: "value",
  gridIndex: i,
  min,
  max,
  splitLine: { show: false },
  axisLine: { show: true, onZero: false, lineStyle: { color: "#444", width: 1.4 } },
  axisTick: { show: true, length: 4, customValues: ticks, lineStyle: { color: "#444", width: 1.2 } },
  axisLabel: { customValues: ticks, formatter: tickFmt, margin: 7, color: "#151515", fontFamily: serif, fontWeight: "bold", fontSize: 14, showMinLabel: true, showMaxLabel: true },
});

const legend = (top: number) => ({
  left: 1208,
  top,
  orient: "vertical",
  icon: star,
  itemWidth: 46,
  itemHeight: 9,
  itemGap: 7.7,
  padding: [6, 9, 6, 0],
  selectedMode: false,
  data: classes,
  textStyle: { color: "#111", fontFamily: serif, fontWeight: "bold", fontSize: 16.4, padding: [0, 0, 0, 3] },
});

const legendBox = (y: number) => ({
  type: "rect",
  z: 0,
  shape: { x: 1190, y, width: 143, height: 241, r: 4 },
  style: { fill: "#fff", stroke: "#dcdcdc", lineWidth: 1 },
});

const heading = (text: string, cx: number, cy: number, size = 29, rotation = 0) => ({
  type: "text",
  x: cx,
  y: cy,
  rotation,
  style: { text, fill: "#000", font: `bold ${size}px ${serif}`, align: "center", verticalAlign: "middle" },
});

export default function App() {
  const ref = useRef<HTMLDivElement>(null);
  useEffect(() => {
    const chart = echarts.init(ref.current!, null, { renderer: "svg" });
    chart.setOption({
      animation: false,
      backgroundColor: "#fff",
      grid: panels.map((p) => ({ left: p.box[0], top: p.box[1], width: p.box[2], height: p.box[3], show: true, borderColor: "#444", borderWidth: 1.4, containLabel: false })),
      xAxis: panels.map((p, i) => axis(i, p.x[0], p.x[1], p.xt)),
      yAxis: panels.map((p, i) => axis(i, p.y[0], p.y[1], p.yt)),
      legend: [legend(28), legend(327)],
      series: panels.flatMap((p, i) =>
        p.sets.map((rows, c) => {
          const pts = rowsToPoints(rows);
          return {
            type: "scatter",
            name: classes[c],
            xAxisIndex: i,
            yAxisIndex: i,
            symbol: star,
            symbolSize: markSize(pts),
            silent: true,
            itemStyle: { color: colors[c], opacity: 1 },
            data: pts,
          };
        })
      ),
      graphic: [
        legendBox(29),
        legendBox(328),
        heading("LyaNet", 20, 129, 29, Math.PI / 2),
        heading("Zubov-Net", 19, 430, 29.5, Math.PI / 2),
        heading("(a) Normal Samples", 243.5, 640, 29.5),
        heading("(b) Gaussian Noises", 620.5, 640, 29.5),
        {
          type: "text",
          x: 1018,
          y: 640,
          style: {
            text: "{a|(c) FGSM (}{b|\u03f5 = 8/255}{a|)}",
            align: "center",
            verticalAlign: "middle",
            rich: {
              a: { font: `bold 29.5px ${serif}`, fill: "#000" },
              b: { font: "bold 27px 'DejaVu Serif'", fill: "#000" },
            },
          },
        },
      ],
    });
    return () => chart.dispose();
  }, []);
  return <div ref={ref} style={{ position: "absolute", left: 0, top: 0, width: 1344, height: 661, background: "#fff" }} />;
}
